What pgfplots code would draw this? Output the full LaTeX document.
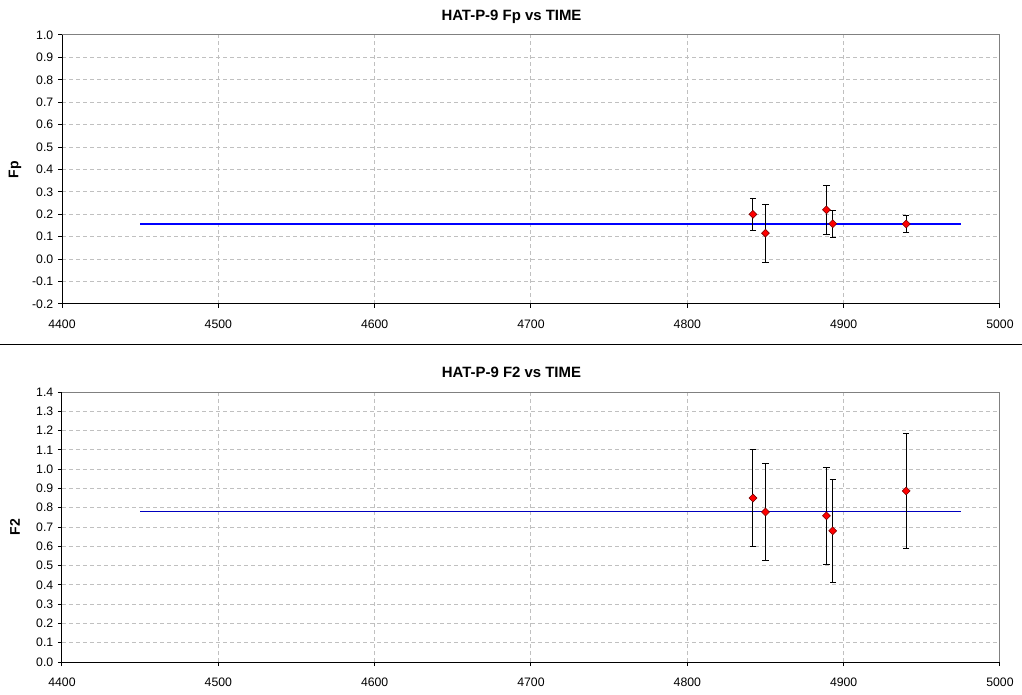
\documentclass[border=0pt]{standalone}
\usepackage{fontspec}
\setmainfont{Liberation Sans}
\usepackage{pgfplots}
\pgfplotsset{compat=1.18}

\definecolor{gridgray}{RGB}{192,192,192}
\definecolor{spinegray}{RGB}{128,128,128}
\definecolor{fitblue}{RGB}{0,0,255}
\definecolor{fitnavy}{RGB}{0,0,190}
\definecolor{ptred}{RGB}{255,0,0}

% Fp vs time: x, y, error
\pgfplotstableread{
x    y      e
4842 0.200  0.072
4850 0.116  0.129
4889 0.220  0.109
4893 0.158  0.061
4940 0.157  0.040
}\fptable

% F2 vs time
\pgfplotstableread{
x    y      e
4842 0.850  0.253
4850 0.778  0.252
4889 0.758  0.253
4893 0.680  0.266
4940 0.887  0.300
}\ftwotable

% 1 px of the reference = 0.75pt
\pgfplotsset{
  hatstyle/.style={
    scale only axis,
    width=703.5pt,
    xmin=4400, xmax=5000,
    xtick={4400,4500,...,5000},
    font=\fontsize{9.2pt}{11pt}\selectfont,
    /pgf/number format/assume math mode=true,
    x tick label style={/pgf/number format/1000 sep={}, yshift=-5.5pt},
    y tick label style={/pgf/number format/.cd, fixed, fixed zerofill, precision=1},
    grid=major,
    major grid style={gridgray, line width=0.75pt, dash pattern=on 3pt off 2.25pt},
    axis line style={spinegray, line width=0.75pt},
    tick align=outside,
    major tick length=3pt,
    tick style={black, line width=0.75pt},
    xtick pos=bottom, ytick pos=left,
    title style={font=\fontsize{11.2pt}{13pt}\selectfont\bfseries, at={(axis description cs:0.4792,1)}, anchor=base, yshift=4.5pt},
    every axis y label/.style={at={(axis description cs:-0.0501,0.5)}, rotate=90, anchor=center, font=\fontsize{10.5pt}{12pt}\selectfont\bfseries},
    clip=false,
  },
  ptstyle/.style={
    only marks,
    mark=square*,
    mark size=2.1pt,
    mark options={rotate=45, fill=ptred, draw=black!55!red, line width=0.4pt},
    error bars/.cd, y dir=both, y explicit,
    error bar style={black, line width=0.75pt},
    error mark options={black, mark size=2.3pt, line width=0.75pt, rotate=90},
  },
}

\begin{document}
\begin{tikzpicture}
\useasboundingbox (0pt,0pt) rectangle (766.5pt,-521.25pt);

\begin{axis}[
  hatstyle,
  at={(46.5pt,-228pt)}, anchor=south west,
  height=201.75pt,
  ymin=-0.2, ymax=1.0,
  ytick={-0.2,-0.1,...,1.01},
  title={HAT-P-9 Fp vs TIME},
  ylabel={Fp},
]
\addplot[draw=fitblue, line width=0.8pt] coordinates {(4450,0.157) (4975,0.157)};
\addplot[ptstyle] table[x=x, y=y, y error=e] {\fptable};
\draw[black, line width=0.75pt] (rel axis cs:0,1) -- (rel axis cs:0,0) -- (rel axis cs:1,0);
\end{axis}

\draw[black, line width=0.75pt] (0pt,-258.75pt) -- (766.5pt,-258.75pt);

\begin{axis}[
  hatstyle,
  at={(46.5pt,-496.5pt)}, anchor=south west,
  height=202.5pt,
  ymin=0, ymax=1.4,
  ytick={0,0.1,...,1.41},
  title={HAT-P-9 F2 vs TIME},
  ylabel={F2},
]
\addplot[draw=fitnavy, line width=0.8pt] coordinates {(4450,0.778) (4975,0.778)};
\addplot[ptstyle] table[x=x, y=y, y error=e] {\ftwotable};
\draw[black, line width=0.75pt] (rel axis cs:0,1) -- (rel axis cs:0,0) -- (rel axis cs:1,0);
\end{axis}
\end{tikzpicture}
\end{document}
